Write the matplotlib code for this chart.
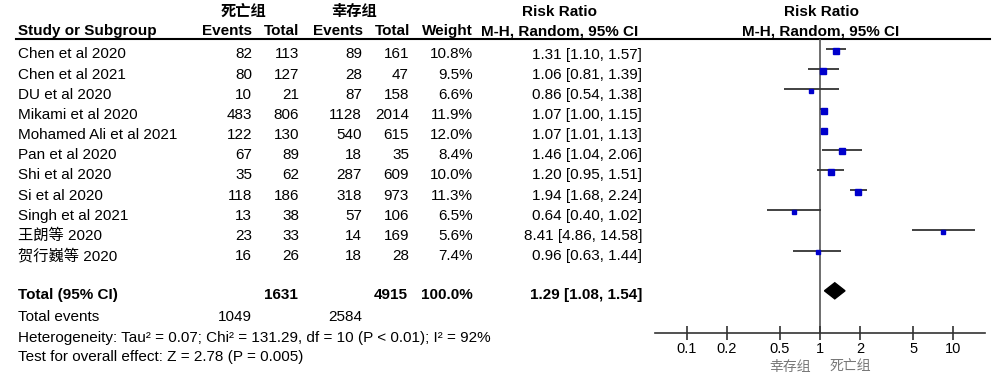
import numpy as np
import matplotlib.pyplot as plt
from matplotlib.patches import Polygon

plt.rcParams['font.family'] = ['Liberation Sans', 'Noto Sans CJK SC']

studies = ["Chen et al 2020", "Chen et al 2021", "DU et al 2020", "Mikami et al 2020",
           "Mohamed Ali et al 2021", "Pan et al 2020", "Shi et al 2020", "Si et al 2020",
           "Singh et al 2021", "王朗等 2020", "贺行巍等 2020"]
ev_death = [82, 80, 10, 483, 122, 67, 35, 118, 13, 23, 16]
tot_death = [113, 127, 21, 806, 130, 89, 62, 186, 38, 33, 26]
ev_surv = [89, 28, 87, 1128, 540, 18, 287, 318, 57, 14, 18]
tot_surv = [161, 47, 158, 2014, 615, 35, 609, 973, 106, 169, 28]
weight = [10.8, 9.5, 6.6, 11.9, 12.0, 8.4, 10.0, 11.3, 6.5, 5.6, 7.4]
rr = [1.31, 1.06, 0.86, 1.07, 1.07, 1.46, 1.20, 1.94, 0.64, 8.41, 0.96]
lo = [1.10, 0.81, 0.54, 1.00, 1.01, 1.04, 0.95, 1.68, 0.40, 4.86, 0.63]
hi = [1.57, 1.39, 1.38, 1.15, 1.13, 2.06, 1.51, 2.24, 1.02, 14.58, 1.44]
total_rr, total_lo, total_hi = 1.29, 1.08, 1.54
total_death, total_surv = 1631, 4915
total_ev_death, total_ev_surv = 1049, 2584
ticks = [0.1, 0.2, 0.5, 1, 2, 5, 10]

W, H = 1000, 381
fig = plt.figure(figsize=(W / 100, H / 100), dpi=100)
tab = fig.add_axes([0, 0, 1, 1])
tab.set_xlim(0, W)
tab.set_ylim(H, 0)
tab.axis('off')

fs = 11
y0, dy = 54.5, 20.15

# column headers
tab.text(243, 12, "死亡组", ha='center', va='center', fontsize=fs, fontweight='bold')
tab.text(354, 12, "幸存组", ha='center', va='center', fontsize=fs, fontweight='bold')
tab.text(560, 12, "Risk Ratio", ha='center', va='center', fontsize=fs, fontweight='bold')
tab.text(821, 12, "Risk Ratio", ha='center', va='center', fontsize=fs, fontweight='bold')
hy = 31
tab.text(18, hy, "Study or Subgroup", ha='left', va='center', fontsize=fs, fontweight='bold')
for x, s in [(252, "Events"), (299, "Total"), (363, "Events"), (410, "Total"), (473, "Weight")]:
    tab.text(x, hy, s, ha='right', va='center', fontsize=fs, fontweight='bold')
tab.text(560, hy, "M-H, Random, 95% CI", ha='center', va='center', fontsize=fs, fontweight='bold')
tab.text(821, hy, "M-H, Random, 95% CI", ha='center', va='center', fontsize=fs, fontweight='bold')
tab.plot([16, 990], [38.5, 38.5], color='black', lw=1.5)

# study rows
for i, name in enumerate(studies):
    y = y0 + dy * i
    tab.text(18, y, name, ha='left', va='center', fontsize=fs)
    tab.text(252, y, str(ev_death[i]), ha='right', va='center', fontsize=fs)
    tab.text(299, y, str(tot_death[i]), ha='right', va='center', fontsize=fs)
    tab.text(362, y, str(ev_surv[i]), ha='right', va='center', fontsize=fs)
    tab.text(409, y, str(tot_surv[i]), ha='right', va='center', fontsize=fs)
    tab.text(473, y, f"{weight[i]:.1f}%", ha='right', va='center', fontsize=fs)
    tab.text(642, y, f"{rr[i]:.2f} [{lo[i]:.2f}, {hi[i]:.2f}]", ha='right', va='center', fontsize=fs)

# totals
ty = 295
tab.text(18, ty, "Total (95% CI)", ha='left', va='center', fontsize=fs, fontweight='bold')
tab.text(298, ty, str(total_death), ha='right', va='center', fontsize=fs, fontweight='bold')
tab.text(408, ty, str(total_surv), ha='right', va='center', fontsize=fs, fontweight='bold')
tab.text(473, ty, f"{sum(weight):.1f}%", ha='right', va='center', fontsize=fs, fontweight='bold')
tab.text(642, ty, f"{total_rr:.2f} [{total_lo:.2f}, {total_hi:.2f}]", ha='right', va='center',
         fontsize=fs, fontweight='bold')
tab.text(18, 317, "Total events", ha='left', va='center', fontsize=fs)
tab.text(252, 317, str(total_ev_death), ha='right', va='center', fontsize=fs)
tab.text(362, 317, str(total_ev_surv), ha='right', va='center', fontsize=fs)
tab.text(18, 338, "Heterogeneity: Tau² = 0.07; Chi² = 131.29, df = 10 (P < 0.01); I² = 92%",
         ha='left', va='center', fontsize=fs)
tab.text(18, 357, "Test for overall effect: Z = 2.78 (P = 0.005)", ha='left', va='center', fontsize=fs)

# forest plot axes
top_px, bot_px, row0_px = 38.5, 332.5, 49
ax = fig.add_axes([655 / W, 1 - bot_px / H, 330 / W, (bot_px - top_px) / H])
ax.set_xscale('log')
ax.set_xlim(10 ** -1.236, 10 ** 1.236)
ax.set_ylim((bot_px - row0_px) / dy, (top_px - row0_px) / dy)
ax.patch.set_alpha(0)
for s in ['top', 'left', 'right']:
    ax.spines[s].set_visible(False)
ax.spines['bottom'].set_linewidth(1.2)
ax.spines['bottom'].set_color('#333333')
ax.axvline(1, color='#555555', lw=1.2, zorder=1)

ys = np.arange(len(studies))
ax.hlines(ys, lo, hi, color='#333333', lw=1.3, zorder=2)
for i in range(len(studies)):
    ax.plot(rr[i], ys[i] + 0.08, marker='s', color='#0000CC', ms=1.25 * np.sqrt(weight[i]),
            mec='#0000CC', zorder=3)

dyd = 12
diamond = Polygon([[total_lo, dyd], [total_rr, dyd - 0.4], [total_hi, dyd], [total_rr, dyd + 0.4]],
                  closed=True, facecolor='black', edgecolor='black', zorder=3)
ax.add_patch(diamond)

ax.set_yticks([])
ax.set_xticks(ticks)
ax.set_xticklabels([f"{t:g}" for t in ticks], fontsize=10.5)
ax.minorticks_off()
ax.tick_params(axis='x', direction='inout', length=10, width=1.2, color='#333333', pad=2)

tab.text(790, 367, "幸存组", ha='center', va='center', fontsize=10, color='#777777')
tab.text(850, 367, "死亡组", ha='center', va='center', fontsize=10, color='#777777')

fig.savefig('out.png', dpi=100)
